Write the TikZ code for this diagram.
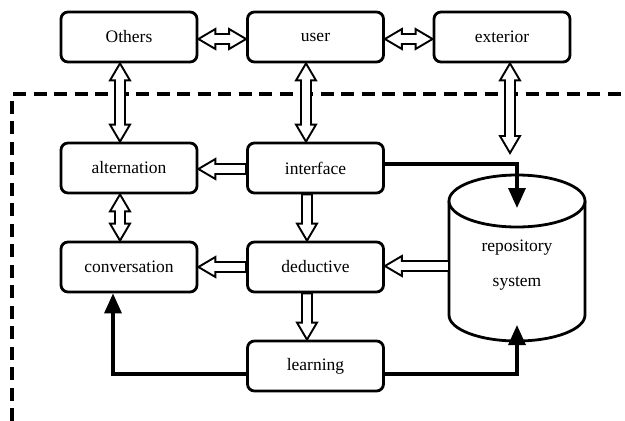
\documentclass[tikz,border=0pt]{standalone}
\usepackage{fontspec}
\setmainfont{Liberation Serif}
\usetikzlibrary{arrows.meta,calc}

\tikzset{
  box/.style={draw, line width=2.8pt, rounded corners=7pt, fill=white,
    minimum width=136pt, minimum height=50pt, inner sep=0pt,
    font=\fontsize{17.5}{20}\selectfont},
  hollow/.style={draw, line width=1.9pt, fill=white, line join=miter},
  solidarr/.style={line width=3.3pt, -{Triangle[length=20pt,width=17pt]}},
  border/.style={line width=3.2pt, dash pattern=on 13pt off 7.5pt},
  cyl/.style={line width=2.8pt},
}

% double-headed hollow arrow from #1 to #2
\newcommand\hollowboth[2]{%
  \path[hollow] (#1)
    -- ($(#1)!17pt!(#2)!10pt!90:(#2)$)
    -- ($(#1)!17pt!(#2)!5pt!90:(#2)$)
    -- ($(#2)!17pt!(#1)!5pt!-90:(#1)$)
    -- ($(#2)!17pt!(#1)!10pt!-90:(#1)$)
    -- (#2)
    -- ($(#2)!17pt!(#1)!10pt!90:(#1)$)
    -- ($(#2)!17pt!(#1)!5pt!90:(#1)$)
    -- ($(#1)!17pt!(#2)!5pt!-90:(#2)$)
    -- ($(#1)!17pt!(#2)!10pt!-90:(#2)$)
    -- cycle;}
% single-headed hollow arrow from #1 to #2
\newcommand\hollowone[2]{%
  \path[hollow] ($(#1)!5pt!90:(#2)$)
    -- ($(#2)!17pt!(#1)!5pt!-90:(#1)$)
    -- ($(#2)!17pt!(#1)!10pt!-90:(#1)$)
    -- (#2)
    -- ($(#2)!17pt!(#1)!10pt!90:(#1)$)
    -- ($(#2)!17pt!(#1)!5pt!90:(#1)$)
    -- ($(#1)!5pt!-90:(#2)$)
    -- cycle;}

\begin{document}
\begin{tikzpicture}[x=1pt,y=1pt]
\useasboundingbox (0,0) rectangle (625,-421);

% dashed border
\draw[border] (12,-421) -- (12,-94) -- (625,-94);

% boxes
\node[box] (others) at (129,-37) {Others};
\node[box] (user) at (315.5,-37) {user};
\node[box] (exterior) at (502,-37) {exterior};
\node[box] (alternation) at (129,-168) {alternation};
\node[box] (interface) at (315.5,-168) {interface};
\node[box] (conversation) at (129,-267) {conversation};
\node[box] (deductive) at (315.5,-267) {deductive};
\node[box] (learning) at (315.5,-366) {learning};

% cylinder
\fill[white] (449,-201) -- (449,-315) arc[start angle=180, end angle=360, x radius=68, y radius=26] -- (585,-201) -- cycle;
\draw[cyl] (449,-201) -- (449,-315) arc[start angle=180, end angle=360, x radius=68, y radius=26] -- (585,-201);
\draw[cyl, fill=white] (517,-201) ellipse [x radius=68, y radius=26];
\node[font=\fontsize{17.5}{35}\selectfont, align=center, inner sep=0pt] (repo) at (517,-265) {repository\\system};

\coordinate (repoW) at (449,-266);
\coordinate (repoTop) at (517,-208);
\coordinate (repoBot) at (517,-325);
\coordinate (extEnd) at (510,-153);

% anchors for hollow arrows
\coordinate (ou1) at ([yshift=-2pt]others.east);
\coordinate (ou2) at ([yshift=-2pt]user.west);
\coordinate (ue1) at ([yshift=-2pt]user.east);
\coordinate (ue2) at ([yshift=-2pt]exterior.west);
\coordinate (oa1) at ([xshift=-9pt]others.south);
\coordinate (oa2) at ([xshift=-9pt]alternation.north);
\coordinate (ui1) at ([xshift=-9.5pt]user.south);
\coordinate (ui2) at ([xshift=-9.5pt]interface.north);
\coordinate (ex1) at ([xshift=8pt]exterior.south);
\coordinate (ia1) at ([yshift=-1pt]interface.west);
\coordinate (ia2) at ([yshift=-1pt]alternation.east);
\coordinate (ac1) at ([xshift=-9pt]alternation.south);
\coordinate (ac2) at ([xshift=-9pt]conversation.north);
\coordinate (id1) at ([xshift=-8.5pt]interface.south);
\coordinate (id2) at ([xshift=-8.5pt]deductive.north);
\coordinate (dc1) at (deductive.west);
\coordinate (dc2) at (conversation.east);
\coordinate (dl1) at ([xshift=-8.5pt]deductive.south);
\coordinate (dl2) at ([xshift=-8.5pt]learning.north);
\coordinate (rd2) at ([yshift=1pt]deductive.east);

\hollowboth{ou1}{ou2}
\hollowboth{ue1}{ue2}
\hollowboth{oa1}{oa2}
\hollowboth{ui1}{ui2}
\hollowboth{ex1}{extEnd}
\hollowone{ia1}{ia2}
\hollowboth{ac1}{ac2}
\hollowone{id1}{id2}
\hollowone{dc1}{dc2}
\hollowone{dl1}{dl2}
\hollowone{repoW}{rd2}

% solid arrows
\draw[solidarr] ([yshift=4pt]interface.east) -| (repoTop);
\draw[solidarr] ([yshift=-8pt]learning.west) -| ([xshift=-16pt]conversation.south);
\draw[solidarr] ([yshift=-8pt]learning.east) -| (repoBot);
\end{tikzpicture}
\end{document}
